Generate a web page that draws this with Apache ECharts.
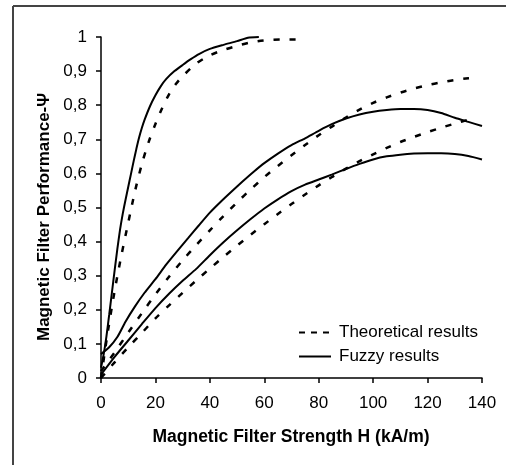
<!DOCTYPE html>
<html>
<head>
<meta charset="utf-8">
<script src="https://cdn.jsdelivr.net/npm/echarts@6/dist/echarts.min.js"></script>
<style>
  html, body { margin: 0; padding: 0; background: #fff; }
  #chart { width: 506px; height: 465px; }
</style>
</head>
<body>
<div id="chart"></div>
<script>
// values as [H, psi] pairs
const theoryA = [[0, 0], [2.5, 0.135], [5, 0.255], [7.5, 0.36], [10, 0.455], [12.5, 0.548], [15, 0.627],
  [17.5, 0.692], [20, 0.745], [22.5, 0.792], [25, 0.832], [27.5, 0.862], [30, 0.885], [35, 0.922],
  [40, 0.946], [45, 0.962], [50, 0.974], [55, 0.984], [60, 0.99], [67, 0.993], [74, 0.993]]
const fuzzyA = [[0, 0.03], [1, 0.07], [2, 0.122], [3, 0.185], [4, 0.25], [5, 0.315], [6, 0.378],
  [7, 0.435], [8, 0.482], [9, 0.522], [10, 0.56], [11, 0.598], [12, 0.636], [13, 0.672], [14, 0.705],
  [15, 0.733], [16, 0.757], [18, 0.797], [20, 0.829], [22, 0.856], [24, 0.877], [27, 0.9], [30, 0.918],
  [33, 0.935], [36, 0.95], [40, 0.965], [45, 0.977], [50, 0.988], [54, 0.998], [58, 1.0]]
const theoryB = [[0, 0.02], [5, 0.075], [10, 0.133], [15, 0.19], [20, 0.245], [25, 0.297], [30, 0.345],
  [35, 0.39], [40, 0.433], [45, 0.475], [50, 0.515], [55, 0.553], [60, 0.589], [65, 0.622], [70, 0.653],
  [75, 0.683], [80, 0.712], [85, 0.738], [90, 0.764], [95, 0.787], [100, 0.807], [105, 0.823],
  [110, 0.837], [115, 0.849], [120, 0.859], [125, 0.867], [130, 0.874], [135, 0.879], [138, 0.881]]
const fuzzyB = [[0, 0.07], [3, 0.09], [6, 0.12], [9, 0.165], [12.5, 0.21], [16, 0.25], [20, 0.29],
  [24, 0.333], [28, 0.372], [32, 0.41], [36, 0.448], [40, 0.485], [44, 0.517], [48, 0.547], [52, 0.576],
  [56, 0.604], [60, 0.63], [65, 0.658], [70, 0.683], [75, 0.703], [80, 0.725], [85, 0.745], [90, 0.761],
  [95, 0.773], [100, 0.781], [105, 0.786], [110, 0.789], [115, 0.789], [120, 0.786], [125, 0.777],
  [130, 0.763], [135, 0.751], [140, 0.739]]
const theoryC = [[0, 0], [5, 0.046], [10, 0.09], [15, 0.132], [20, 0.175], [25, 0.213], [30, 0.25],
  [35, 0.286], [40, 0.321], [45, 0.355], [50, 0.388], [55, 0.42], [60, 0.451], [65, 0.481], [70, 0.51],
  [75, 0.538], [80, 0.565], [85, 0.59], [90, 0.614], [95, 0.636], [100, 0.656], [105, 0.675],
  [110, 0.692], [115, 0.707], [120, 0.721], [125, 0.734], [130, 0.746], [136, 0.76]]
const fuzzyC = [[0, 0.01], [5, 0.062], [10, 0.11], [15, 0.158], [20, 0.205], [25, 0.247], [30, 0.285],
  [35, 0.32], [40, 0.36], [45, 0.398], [50, 0.433], [55, 0.466], [60, 0.497], [65, 0.524], [70, 0.548],
  [75, 0.567], [80, 0.582], [85, 0.597], [90, 0.613], [95, 0.628], [100, 0.641], [105, 0.65],
  [110, 0.655], [115, 0.658], [120, 0.659], [125, 0.659], [130, 0.657], [135, 0.651], [140, 0.641]]

const xTicks = [0, 20, 40, 60, 80, 100, 120, 140]

const font = '"Liberation Sans", Arial, sans-serif'
const dash = [6, 10]

function theory(data) {
  return {
    name: 'Theoretical results',
    type: 'line',
    data: data,
    symbol: 'none',
    smooth: 0.3,
    lineStyle: { color: '#000', width: 2.5, type: dash },
    itemStyle: { color: '#000' }
  }
}

function fuzzy(data) {
  return {
    name: 'Fuzzy results',
    type: 'line',
    data: data,
    symbol: 'none',
    smooth: 0.2,
    lineStyle: { color: '#000', width: 2, type: 'solid' },
    itemStyle: { color: '#000' }
  }
}

const chart = echarts.init(document.getElementById('chart'))
chart.setOption({
  animation: false,
  backgroundColor: '#fff',
  textStyle: { fontFamily: font },
  grid: { left: 101, top: 37, right: 24, bottom: 87 },
  legend: {
    orient: 'vertical',
    left: 293,
    top: 319,
    itemWidth: 32,
    itemHeight: 14,
    itemGap: 7,
    itemStyle: { opacity: 0 },
    textStyle: { fontSize: 17, color: '#000', fontFamily: font, padding: [0, 0, 0, 3] },
    data: [
      { name: 'Theoretical results', lineStyle: { type: [6, 6] } },
      { name: 'Fuzzy results' }
    ]
  },
  xAxis: {
    type: 'value',
    min: 0,
    max: 140,
    interval: 20,
    axisLine: { lineStyle: { color: '#000', width: 1.5 } },
    axisTick: { show: true, length: 5, lineStyle: { color: '#000', width: 1.5 } },
    axisLabel: { fontSize: 17, color: '#000', margin: 17, customValues: xTicks },
    splitLine: { show: false }
  },
  yAxis: {
    type: 'value',
    min: 0,
    max: 1,
    interval: 0.1,
    axisLine: { show: true, lineStyle: { color: '#000', width: 1.5 } },
    axisTick: { show: true, length: 5, lineStyle: { color: '#000', width: 1.5 } },
    axisLabel: {
      fontSize: 17, color: '#000', margin: 14,
      formatter: v => String(Math.round(v * 10) / 10).replace('.', ',')
    },
    splitLine: { show: false }
  },
  graphic: [
    { type: 'line', shape: { x1: 13, y1: 6, x2: 506, y2: 6 }, style: { stroke: '#444', lineWidth: 2 } },
    { type: 'line', shape: { x1: 13, y1: 6, x2: 13, y2: 465 }, style: { stroke: '#444', lineWidth: 2 } },
    {
      type: 'text', x: 291, y: 437,
      style: { text: 'Magnetic Filter Strength H (kA/m)', font: 'bold 17.5px ' + font, fill: '#000', align: 'center', verticalAlign: 'middle' }
    },
    {
      type: 'text', x: 44, y: 217, rotation: Math.PI / 2,
      style: { text: 'Magnetic Filter Performance-Ψ', font: 'bold 17px ' + font, fill: '#000', align: 'center', verticalAlign: 'middle' }
    }
  ],
  series: [
    theory(theoryA), fuzzy(fuzzyA),
    theory(theoryB), fuzzy(fuzzyB),
    theory(theoryC), fuzzy(fuzzyC)
  ]
})
</script>
</body>
</html>
